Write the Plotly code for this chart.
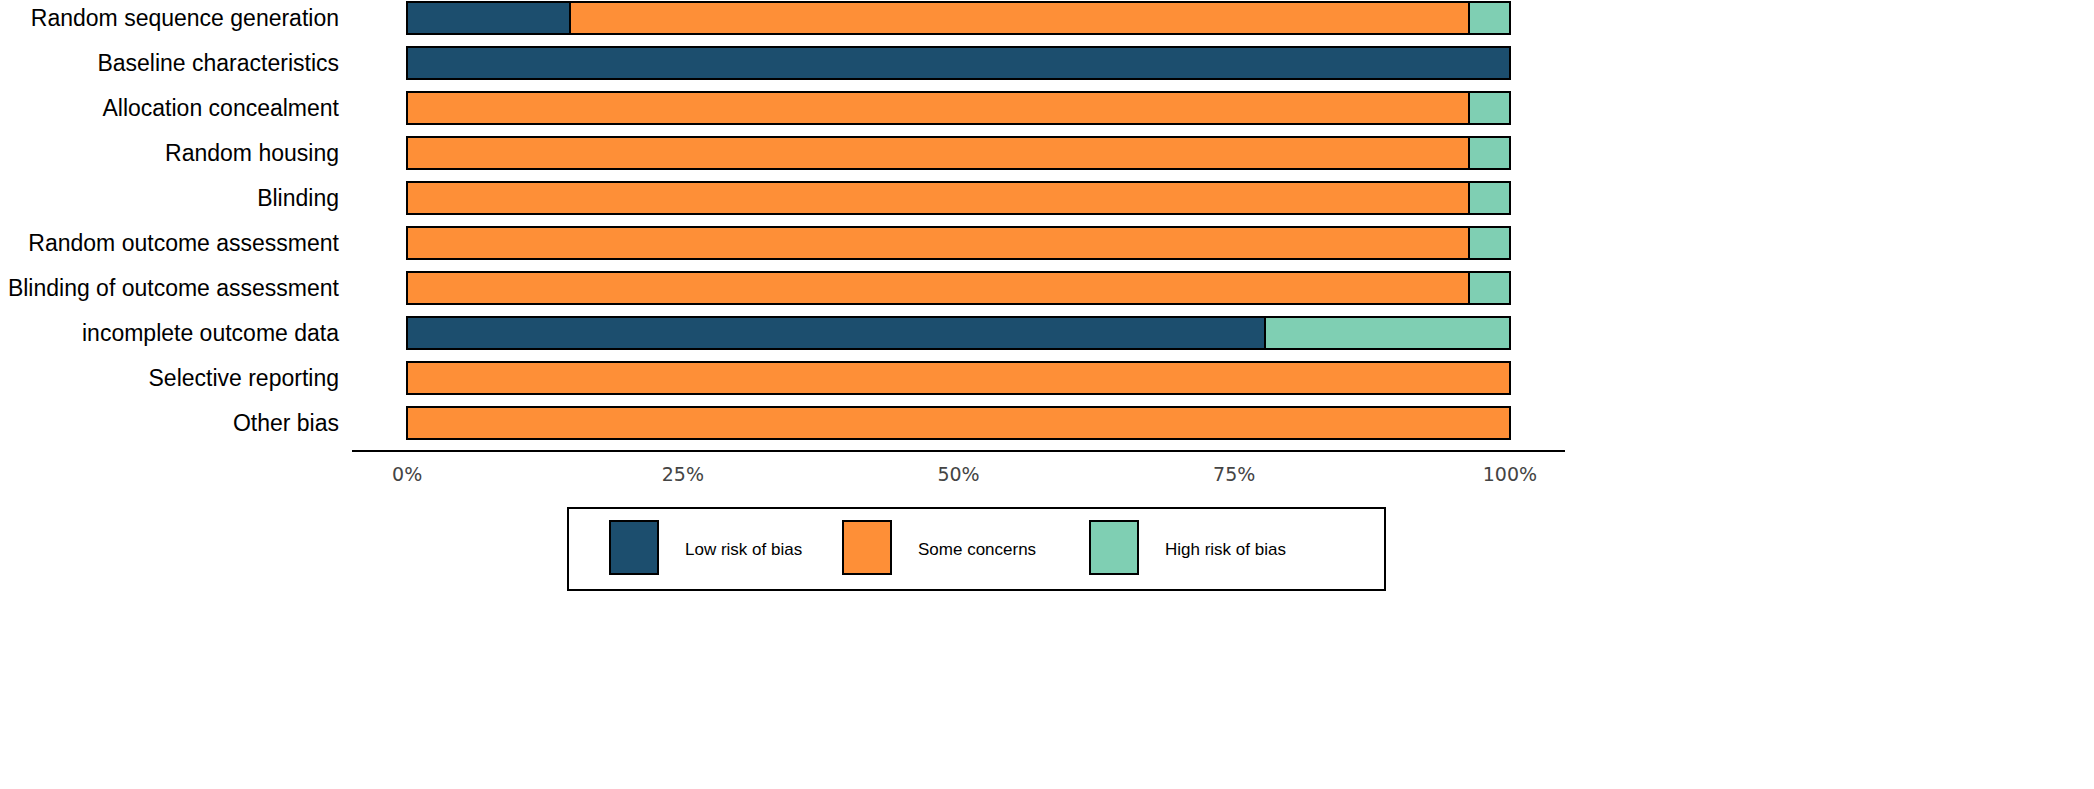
import plotly.graph_objects as go

domains = [
    "Random sequence generation",
    "Baseline characteristics",
    "Allocation concealment",
    "Random housing",
    "Blinding",
    "Random outcome assessment",
    "Blinding of outcome assessment",
    "incomplete outcome data",
    "Selective reporting",
    "Other bias",
]
low_risk = [14.8, 100, 0, 0, 0, 0, 0, 77.8, 0, 0]
some_concerns = [81.5, 0, 96.3, 96.3, 96.3, 96.3, 96.3, 0, 100, 100]
high_risk = [3.7, 0, 3.7, 3.7, 3.7, 3.7, 3.7, 22.2, 0, 0]

series_names = ["Low risk of bias", "Some concerns", "High risk of bias"]
series_colors = ["#1c4e6e", "#fe8f37", "#7fcfb3"]
tick_vals = [0, 25, 50, 75, 100]
tick_text = ["0%", "25%", "50%", "75%", "100%"]

W, H = 2094, 789
L, R, T, B = 352, 529, 0, 339
pw, ph = W - L - R, H - T - B

fig = go.Figure()
for name, vals, col in zip(series_names, [low_risk, some_concerns, high_risk], series_colors):
    fig.add_trace(go.Bar(
        y=domains, x=vals, name=name, orientation="h",
        marker=dict(color=col, line=dict(color="black", width=2)),
        showlegend=False,
    ))

fig.update_layout(
    width=W, height=H,
    margin=dict(l=L, r=R, t=T, b=B, autoexpand=False),
    barmode="stack", bargap=0.29,
    plot_bgcolor="white", paper_bgcolor="white",
    font=dict(family="Liberation Sans, Arial", color="black"),
)
fig.update_xaxes(
    range=[-5, 105], tickvals=tick_vals, ticktext=tick_text,
    showgrid=False, zeroline=False, showline=True, linecolor="black", linewidth=1.5,
    ticks="", ticklabelstandoff=6, automargin=False,
    tickfont=dict(family="DejaVu Sans", size=19, color="#444444"),
)
fig.update_yaxes(
    range=[9.6, -0.4], showgrid=False, zeroline=False, showline=False,
    ticks="", ticklabelstandoff=12, automargin=False,
    tickfont=dict(family="Liberation Sans, Arial", size=23, color="black"),
)

def px(x):
    return (x - L) / pw

def py(y):
    return (H - B - y) / ph

shapes = [dict(type="rect", xref="paper", yref="paper",
               x0=px(568), x1=px(1385), y0=py(508), y1=py(590),
               line=dict(color="black", width=2), fillcolor="white", layer="above")]
sw_x = [610, 843, 1090]
for sx, col, name in zip(sw_x, series_colors, series_names):
    shapes.append(dict(type="rect", xref="paper", yref="paper",
                       x0=px(sx), x1=px(sx + 48), y0=py(521), y1=py(574),
                       line=dict(color="black", width=2), fillcolor=col, layer="above"))
    fig.add_annotation(xref="paper", yref="paper", x=px(sx + 73), y=py(549),
                       text=name, showarrow=False, xanchor="left", yanchor="middle",
                       font=dict(family="Liberation Sans, Arial", size=17, color="black"))
fig.update_layout(shapes=shapes)

fig.write_html("out.html", config={"displayModeBar": False},
               post_script="document.body.style.margin='0';")
